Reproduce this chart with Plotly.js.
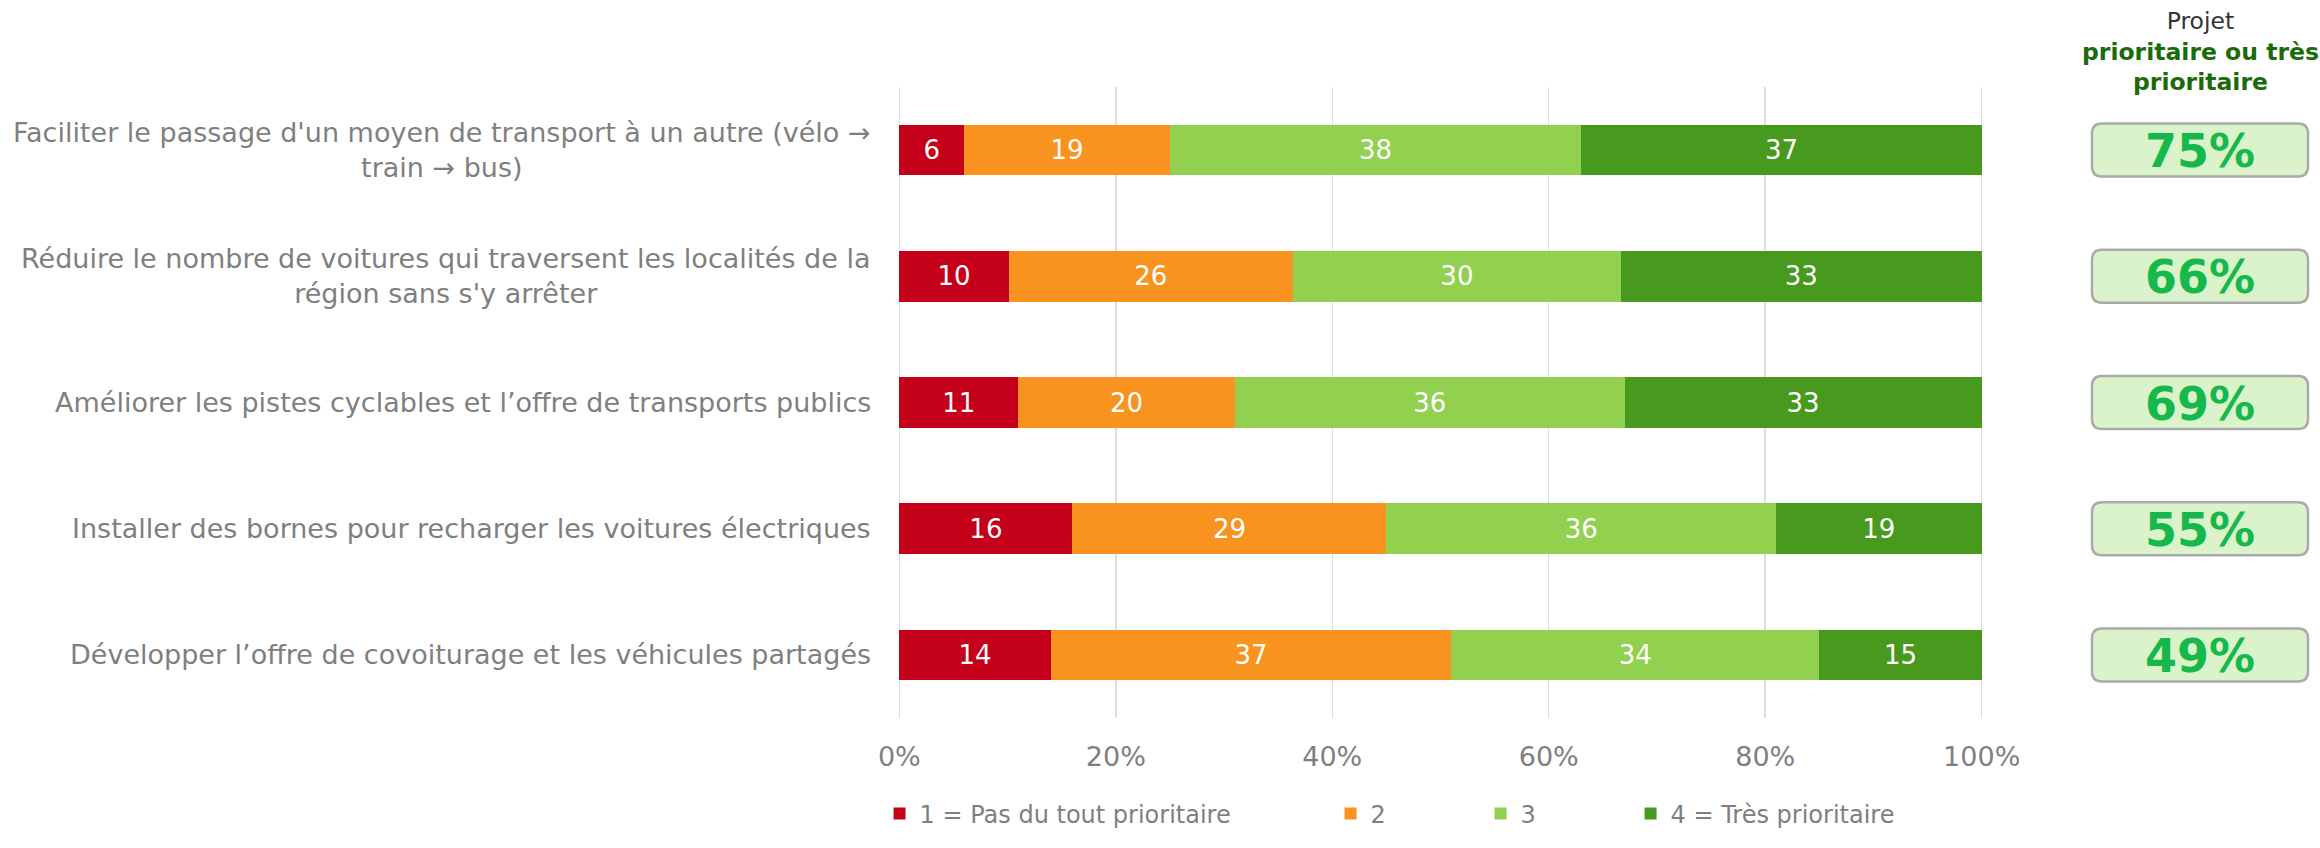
<!DOCTYPE html>
<html>
<head>
<meta charset="utf-8">
<script src="https://cdn.plot.ly/plotly-3.0.1.min.js"></script>
<style>
  body { margin: 0; background: #fff; }
  #chart { width: 2320px; height: 848px; }
</style>
</head>
<body>
<div id="chart"></div>
<script>
// categories, top to bottom
var categories = [
  "Faciliter le passage d'un moyen de transport à un autre (vélo →<br>train → bus)",
  "Réduire le nombre de voitures qui traversent les localités de la<br>région sans s'y arrêter",
  "Améliorer les pistes cyclables et l’offre de transports publics",
  "Installer des bornes pour recharger les voitures électriques",
  "Développer l’offre de covoiturage et les véhicules partagés"
];
var pasPrioritaire = [6, 10, 11, 16, 14];
var niveau2 = [19, 26, 20, 29, 37];
var niveau3 = [38, 30, 36, 36, 34];
var tresPrioritaire = [37, 33, 33, 19, 15];
var prioritaires = [75, 66, 69, 55, 49];
var seriesNames = ['1 = Pas du tout prioritaire', '2', '3', '4 = Très prioritaire'];
var xTicks = [0, 20, 40, 60, 80, 100];
var xTickText = ['0%', '20%', '40%', '60%', '80%', '100%'];

var colors = ['#C5001A', '#F7931E', '#92D050', '#489A1E'];
var series = [pasPrioritaire, niveau2, niveau3, tresPrioritaire];
var legendWidths = [406, 105, 105, 260];
var font = 'DejaVu Sans, Verdana, sans-serif';
var grey = '#7f7f7f';

var data = series.map(function (vals, k) {
  return {
    type: 'bar',
    orientation: 'h',
    name: seriesNames[k],
    x: vals,
    y: categories,
    text: vals.map(String),
    textposition: 'inside',
    insidetextanchor: 'middle',
    textangle: 0,
    constraintext: 'none',
    textfont: {family: font, size: 26, color: '#ffffff'},
    marker: {color: colors[k], line: {width: 0}},
    legendwidth: legendWidths[k],
    hoverinfo: 'name+text'
  };
});

// rounded rectangle path in pixels, centred on its anchor
function roundRect(hw, hh, r) {
  return 'M' + (-hw + r) + ',' + (-hh) +
    ' L' + (hw - r) + ',' + (-hh) +
    ' Q' + hw + ',' + (-hh) + ' ' + hw + ',' + (-hh + r) +
    ' L' + hw + ',' + (hh - r) +
    ' Q' + hw + ',' + hh + ' ' + (hw - r) + ',' + hh +
    ' L' + (-hw + r) + ',' + hh +
    ' Q' + (-hw) + ',' + hh + ' ' + (-hw) + ',' + (hh - r) +
    ' L' + (-hw) + ',' + (-hh + r) +
    ' Q' + (-hw) + ',' + (-hh) + ' ' + (-hw + r) + ',' + (-hh) + ' Z';
}

var boxX = 1.2;
var shapes = [];
var annotations = [];

categories.forEach(function (c, i) {
  annotations.push({
    xref: 'paper', yref: 'y', x: 0, y: i,
    xanchor: 'right', yanchor: 'middle', xshift: -25,
    align: 'center', showarrow: false,
    text: c,
    font: {family: font, size: 27, color: grey}
  });
  shapes.push({
    type: 'path',
    xref: 'paper', yref: 'y',
    xsizemode: 'pixel', ysizemode: 'pixel',
    xanchor: boxX, yanchor: i,
    path: roundRect(108, 26.5, 10),
    fillcolor: '#DBF3CA',
    line: {color: '#AAAAAA', width: 2.5},
    layer: 'above'
  });
  annotations.push({
    xref: 'paper', yref: 'y', x: boxX, y: i,
    xanchor: 'center', yanchor: 'middle', yshift: -1,
    showarrow: false,
    text: '<b>' + prioritaires[i] + '%</b>',
    font: {family: font, size: 46, color: '#17B84B'}
  });
});

annotations.push({
  xref: 'paper', yref: 'paper', x: boxX, y: 1,
  xanchor: 'center', yanchor: 'top', yshift: 82,
  align: 'center', showarrow: false,
  text: 'Projet<br><span style="color:#1B6B0B"><b>prioritaire ou très<br>prioritaire</b></span>',
  font: {family: font, size: 23.5, color: '#333333'}
});

var layout = {
  width: 2320,
  height: 848,
  margin: {l: 898, r: 337, t: 87, b: 113},
  paper_bgcolor: '#ffffff',
  plot_bgcolor: '#ffffff',
  barmode: 'stack',
  barnorm: 'percent',
  bargap: 0.6,
  font: {family: font, color: grey},
  xaxis: {
    range: [-0.12, 100.12],
    tickmode: 'array',
    tickvals: xTicks,
    ticktext: xTickText,
    showgrid: true,
    gridcolor: '#dedede',
    gridwidth: 1.5,
    zeroline: false,
    showline: false,
    ticks: '',
    ticklabelstandoff: 20,
    tickfont: {family: font, size: 27, color: grey},
    fixedrange: true
  },
  yaxis: {
    type: 'category',
    autorange: 'reversed',
    showticklabels: false,
    showgrid: false,
    zeroline: false,
    showline: false,
    ticks: '',
    fixedrange: true
  },
  showlegend: true,
  legend: {
    orientation: 'h',
    x: -0.017, xanchor: 'left',
    y: -0.152, yanchor: 'middle',
    entrywidth: 105,
    traceorder: 'normal',
    font: {family: font, size: 24, color: grey}
  },
  shapes: shapes,
  annotations: annotations
};

Plotly.newPlot('chart', data, layout, {displayModeBar: false, staticPlot: true});
</script>
</body>
</html>
